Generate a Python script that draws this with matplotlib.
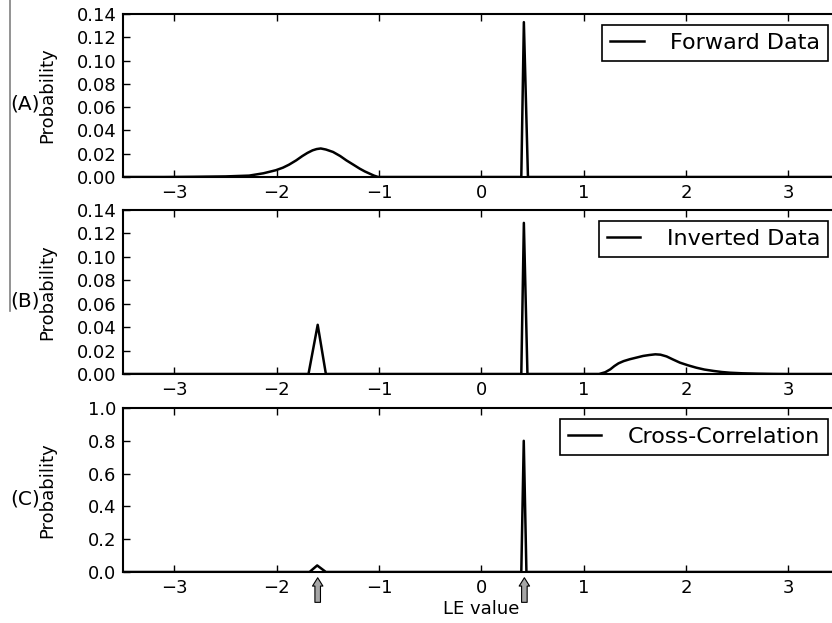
import numpy as np
import matplotlib
matplotlib.use("Agg")
import matplotlib.pyplot as plt
from matplotlib.lines import Line2D

# (A) forward data
fwd_x = [-3.5, -3.1, -2.8, -2.5, -2.27, -2.13, -2.01, -1.94, -1.88, -1.81, -1.75, -1.70, -1.65, -1.61,
         -1.57, -1.52, -1.45, -1.38, -1.32, -1.25, -1.19, -1.14, -1.09, -1.05, -1.01,
         0.39, 0.415, 0.455, 3.5]
fwd_y = [0.0, 0.0, 0.0002, 0.0005, 0.0012, 0.0032, 0.0058, 0.008, 0.0106, 0.0143, 0.018, 0.0207, 0.0229,
         0.0240, 0.0245, 0.0236, 0.0215, 0.018, 0.0143, 0.0105, 0.0072, 0.0048, 0.0028, 0.0012, 0.0,
         0.0, 0.133, 0.0, 0.0]

# (B) inverted data
inv_x = [-3.5, -1.69, -1.60, -1.52, 0.39, 0.415, 0.45,
         1.15, 1.21, 1.26, 1.30, 1.34, 1.39, 1.45, 1.52, 1.58, 1.64, 1.70, 1.75, 1.81, 1.87, 1.94,
         2.02, 2.10, 2.18, 2.27, 2.35, 2.43, 2.55, 2.7, 2.85, 3.0, 3.5]
inv_y = [0.0, 0.0, 0.042, 0.0, 0.0, 0.129, 0.0,
         0.0, 0.0015, 0.004, 0.0068, 0.0091, 0.011, 0.0126, 0.0141, 0.0154, 0.0162, 0.0168, 0.0165,
         0.0150, 0.0125, 0.0097, 0.0074, 0.0054, 0.0038, 0.0026, 0.0017, 0.0011, 0.0006, 0.0003,
         0.0001, 0.0, 0.0]

# (C) cross-correlation
cc_x = [-3.5, -1.68, -1.605, -1.52, 0.39, 0.414, 0.44, 3.5]
cc_y = [0.0, 0.0, 0.04, 0.0, 0.0, 0.8, 0.0, 0.0]

arrow_x = [-1.6, 0.42]

panels = [
    ("(A)", fwd_x, fwd_y, "Forward Data", [0, 0.14], np.arange(0, 0.141, 0.02), "%.2f"),
    ("(B)", inv_x, inv_y, "Inverted Data", [0, 0.14], np.arange(0, 0.141, 0.02), "%.2f"),
    ("(C)", cc_x, cc_y, "Cross-Correlation", [0, 1.0], np.arange(0, 1.01, 0.2), "%.1f"),
]

W, H = 832, 623
fig = plt.figure(figsize=(W / 100, H / 100), dpi=100)

# axes boxes in pixels: top, bottom
boxes = [(14, 177), (210, 374), (408, 572)]
left_px, right_px = 123.3, 839.5

axes = []
for (tag, xs, ys, name, ylim, yt, fmt), (top, bot) in zip(panels, boxes):
    ax = fig.add_axes([left_px / W, 1 - bot / H, (right_px - left_px) / W, (bot - top) / H])
    ax.plot(xs, ys, color="black", lw=1.8, label=name)
    ax.set_xlim(-3.5, 3.5)
    ax.set_ylim(*ylim)
    ax.set_xticks([-3, -2, -1, 0, 1, 2, 3])
    ax.set_xticklabels(["\u22123", "\u22122", "\u22121", "0", "1", "2", "3"])
    ax.set_yticks(yt)
    ax.set_yticklabels([fmt % v for v in yt])
    ax.tick_params(direction="in", top=True, right=True, length=5, width=1,
                   labelsize=13, pad=5)
    for s in ax.spines.values():
        s.set_linewidth(1.5)
    ax.set_ylabel("Probability", fontsize=13)
    ax.yaxis.set_label_coords(-0.093, 0.5)
    leg = ax.legend(loc="upper right", fontsize=16, handlelength=1.5, handletextpad=1.2,
                    borderpad=0.36, borderaxespad=0.5, fancybox=False, framealpha=1)
    leg.get_frame().set_edgecolor("black")
    leg.get_frame().set_linewidth(1.2)
    fig.text(25 / W, 1 - ((top + bot) / 2 + 9) / H, tag, fontsize=14.5,
             ha="center", va="center")
    axes.append(ax)

axc = axes[2]
axc.set_xlabel("LE value", fontsize=13, labelpad=2)
for xa in arrow_x:
    axc.annotate("", xy=(xa, -0.035), xytext=(xa, -0.185),
                 arrowprops=dict(facecolor="0.65", edgecolor="black", width=4,
                                 headwidth=7.5, headlength=6, shrink=0, lw=0.8),
                 annotation_clip=False)

# thin gray line at the left edge
fig.add_artist(Line2D([10 / W, 10 / W], [1.0, 1 - 311 / H], color="0.5", lw=1.2))

fig.savefig("out.png", dpi=100)
